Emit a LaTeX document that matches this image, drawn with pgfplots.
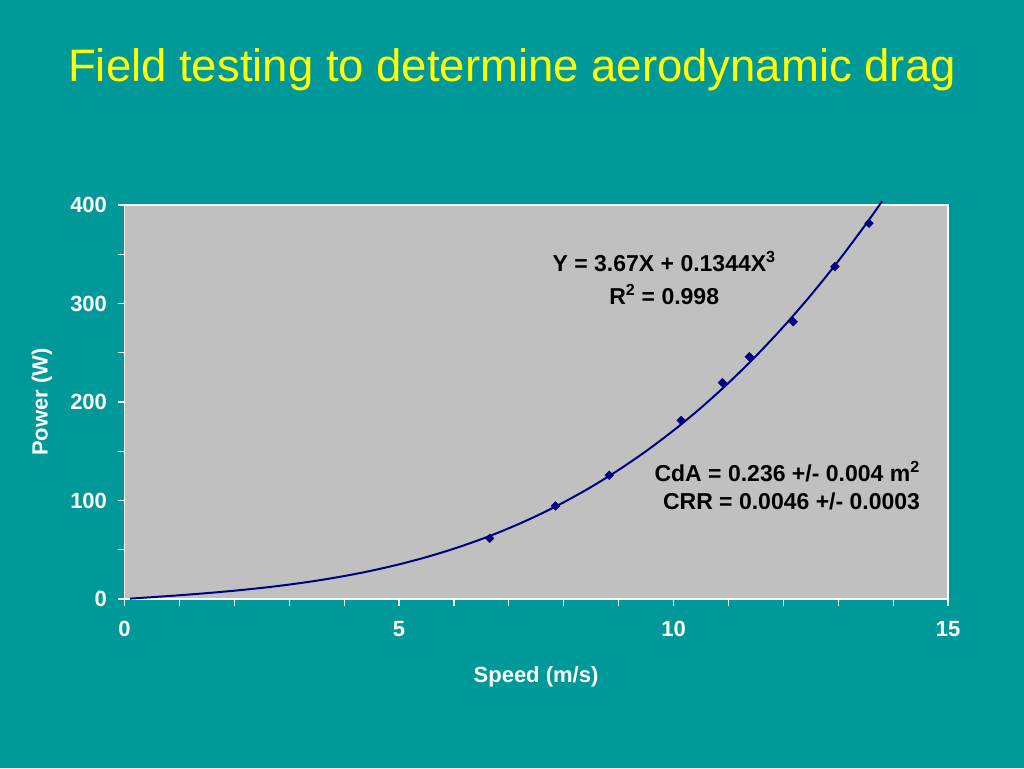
\documentclass[border=0pt]{standalone}
\usepackage{fontspec}
\setmainfont{Liberation Sans}
\usepackage{pgfplots}
\pgfplotsset{compat=1.18}
\definecolor{bg}{HTML}{009999}
\definecolor{plotbg}{HTML}{C0C0C0}
\definecolor{navy}{HTML}{000080}
\definecolor{ttl}{HTML}{FFFF00}
\begin{document}
\begin{tikzpicture}[x=1pt,y=1pt]
\fill[bg] (0,0) rectangle (1024,768);
\node[anchor=base, text=ttl, font=\fontsize{45.5}{50}\selectfont, inner sep=0] at (512,686) {Field testing to determine aerodynamic drag};
\begin{axis}[
  at={(124.5pt,169pt)}, anchor=south west, scale only axis,
  width=823.5pt, height=394pt,
  xmin=0, xmax=15, ymin=0, ymax=400,
  axis background/.style={fill=plotbg},
  axis line style={white, line width=1.2pt},
  xtick={0,5,10,15}, minor xtick={1,2,3,4,6,7,8,9,11,12,13,14},
  ytick={0,100,200,300,400}, minor ytick={50,150,250,350},
  tick align=outside, major tick length=7pt, minor tick length=7pt,
  every tick/.style={white, line width=1.2pt},
  xtick pos=bottom, ytick pos=left,
  tick label style={white, font=\fontsize{22}{26}\selectfont\bfseries},
  xticklabel style={yshift=-12pt},
  yticklabel style={xshift=-7pt},
  /pgf/number format/assume math mode=true,
  clip=false,
  xlabel={Speed (m/s)}, ylabel={Power (W)},
  label style={white, font=\fontsize{22}{26}\selectfont\bfseries},
  xlabel style={at={(axis description cs:0.4997,0)}, anchor=base, yshift=-83pt},
  ylabel style={at={(axis description cs:-0.1002,0.5)}, anchor=center},
]
\addplot[navy, line width=2pt, no marks, smooth] coordinates {
(0.1,0.37) (0.5,1.85) (1,3.80) (1.5,5.96) (2,8.42) (2.5,11.28) (3,14.64)
(3.5,18.61) (4,23.28) (4.5,28.76) (5,35.15) (5.5,42.55) (6,51.05)
(6.5,60.77) (7,71.79) (7.5,84.23) (8,98.17) (8.5,113.73) (9,131.01)
(9.5,150.10) (10,171.1) (10.5,194.12) (11,219.26) (11.5,246.62)
(12,276.28) (12.5,308.38) (13,342.99) (13.5,380.22) (13.8,403.86)
};
\addplot[only marks, mark=square*, mark size=3.1pt, mark options={rotate=45}, navy] coordinates {
(6.65,61.5) (7.85,94.5) (8.83,125.6) (10.14,181.3) (10.89,219.7)
(11.38,246.0) (12.18,281.5) (12.94,337.5) (13.56,381.5)
};
\node[anchor=base, font=\fontsize{23}{26}\selectfont\bfseries, inner sep=0] at (axis cs:9.83,332) {Y = 3.67X + 0.1344X\textsuperscript{3}};
\node[anchor=base, font=\fontsize{23}{26}\selectfont\bfseries, inner sep=0] at (axis cs:9.83,298.5) {R\textsuperscript{2} = 0.998};
\node[anchor=base, font=\fontsize{23}{26}\selectfont\bfseries, inner sep=0] at (axis cs:12.07,119.1) {CdA = 0.236 +/- 0.004 m\textsuperscript{2}};
\node[anchor=base, font=\fontsize{23}{26}\selectfont\bfseries, inner sep=0] at (axis cs:12.15,90.4) {CRR = 0.0046 +/- 0.0003};
\end{axis}
\pgfresetboundingbox
\useasboundingbox (0,0) rectangle (1024,768);
\end{tikzpicture}
\end{document}
